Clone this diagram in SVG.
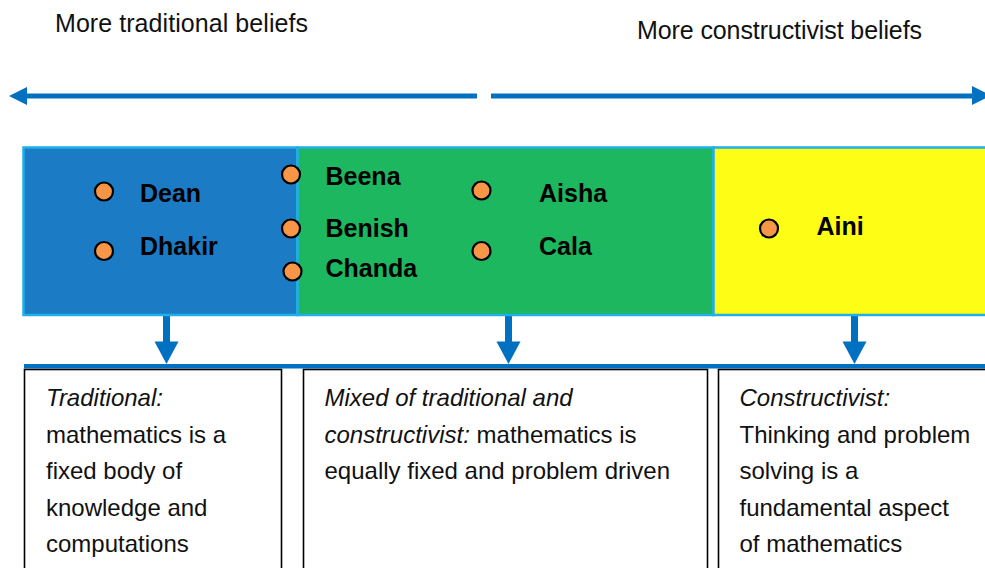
<svg xmlns="http://www.w3.org/2000/svg" width="985" height="568" viewBox="0 0 985 568">
<style>
.head{font-family:"Liberation Sans",Arial,sans-serif;font-size:25px;fill:#111}
.name{font-family:"Liberation Sans",Arial,sans-serif;font-size:25px;font-weight:bold;fill:#000}
.body{font-family:"Liberation Sans",Arial,sans-serif;font-size:24px;fill:#111}
.it{font-style:italic}
.dot{fill:#F79646;stroke:#000;stroke-width:2.2}
.band{stroke:#1FAFEA;stroke-width:2.5}
.box{fill:#fff;stroke:#000;stroke-width:1.6}
.arr{fill:#0070C0}
</style>
<rect width="985" height="568" fill="#fff"/>
<g id="headings">
<text class="head" x="55" y="31.5" textLength="253" lengthAdjust="spacing">More traditional beliefs</text>
<text class="head" x="637" y="39" textLength="285" lengthAdjust="spacing">More constructivist beliefs</text>
</g>
<g id="connectors">
<rect class="arr" x="24" y="93.5" width="453" height="5"/>
<polygon class="arr" points="9,96 27,87 27,105"/>
<rect class="arr" x="491" y="93.5" width="484" height="5"/>
<polygon class="arr" points="972,86 972,105 991,95.5"/>
<rect class="arr" x="163" y="315" width="7" height="28"/>
<polygon class="arr" points="154.5,341.5 178.5,341.5 166.5,364"/>
<rect class="arr" x="505" y="315" width="7" height="28"/>
<polygon class="arr" points="496.5,341.5 520.5,341.5 508.5,364"/>
<rect class="arr" x="851" y="315" width="7" height="28"/>
<polygon class="arr" points="842.5,341.5 866.5,341.5 854.5,364"/>
<rect class="arr" x="24" y="364" width="961" height="4.5"/>
</g>
<g id="band-traditional">
<rect class="band" x="23.5" y="147.5" width="274" height="167.5" fill="#1B7BC5"/>
</g>
<g id="band-mixed">
<rect class="band" x="297.5" y="147.5" width="416" height="167.5" fill="#1CB75F"/>
</g>
<g id="band-constructivist">
<rect class="band" x="713.5" y="147.5" width="290" height="167.5" fill="#FEFD16"/>
</g>
<g id="node-dean"><circle class="dot" cx="104" cy="191.5" r="9"/><text class="name" x="140" y="201.5">Dean</text></g>
<g id="node-dhakir"><circle class="dot" cx="104" cy="251" r="9"/><text class="name" x="140" y="255">Dhakir</text></g>
<g id="node-beena"><circle class="dot" cx="291" cy="174.5" r="9"/><text class="name" x="325.5" y="185">Beena</text></g>
<g id="node-benish"><circle class="dot" cx="291" cy="228.5" r="9"/><text class="name" x="325.5" y="237">Benish</text></g>
<g id="node-chanda"><circle class="dot" cx="292.5" cy="271.5" r="9"/><text class="name" x="325.5" y="277">Chanda</text></g>
<g id="node-aisha"><circle class="dot" cx="481.5" cy="190.5" r="9"/><text class="name" x="539" y="201.5">Aisha</text></g>
<g id="node-cala"><circle class="dot" cx="481.5" cy="251" r="9"/><text class="name" x="539" y="255">Cala</text></g>
<g id="node-aini"><circle class="dot" cx="769" cy="228.5" r="9"/><text class="name" x="816.5" y="235">Aini</text></g>
<g id="box-traditional">
<rect class="box" x="24.5" y="369.5" width="257" height="240"/>
<text class="body" x="46"><tspan class="it" x="46" y="406">Traditional:</tspan><tspan x="46" y="442.5">mathematics is a</tspan><tspan x="46" y="479">fixed body of</tspan><tspan x="46" y="515.5">knowledge and</tspan><tspan x="46" y="552">computations</tspan></text>
</g>
<g id="box-mixed">
<rect class="box" x="303.5" y="369.5" width="404" height="240"/>
<text class="body" x="324.5"><tspan class="it" x="324.5" y="406">Mixed of traditional and</tspan><tspan x="324.5" y="442.5"><tspan class="it">constructivist:</tspan> mathematics is</tspan><tspan x="324.5" y="479">equally fixed and problem driven</tspan></text>
</g>
<g id="box-constructivist">
<rect class="box" x="718.5" y="369.5" width="300" height="240"/>
<text class="body" x="739.5"><tspan class="it" x="739.5" y="406">Constructivist:</tspan><tspan x="739.5" y="442.5">Thinking and problem</tspan><tspan x="739.5" y="479">solving is a</tspan><tspan x="739.5" y="515.5">fundamental aspect</tspan><tspan x="739.5" y="552">of mathematics</tspan></text>
</g>
</svg>
